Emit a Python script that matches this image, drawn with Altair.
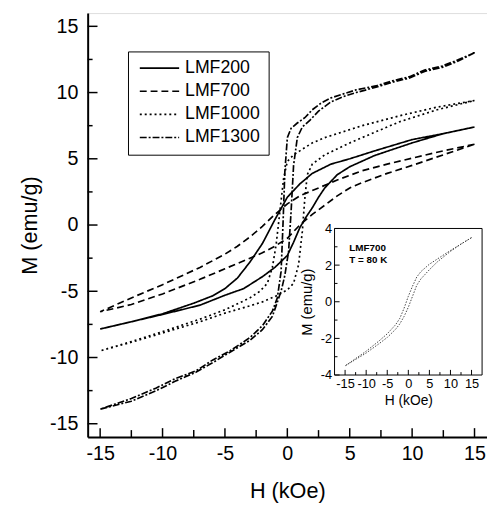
import altair as alt
import pandas as pd

# ---------------- data ----------------
samples = ["LMF200", "LMF700", "LMF1000", "LMF1300"]

# LMF200 (solid)
lmf200_desc_H = [15, 12.5, 10, 7, 5, 3.5, 2, 1, 0, -1, -2, -3, -4, -5, -6, -7.5, -10, -12.5, -15]
lmf200_desc_M = [7.4, 6.9, 6.45, 5.6, 5.0, 4.6, 3.9, 3.1, 2.1, 0.4, -1.4, -2.8, -4.0, -4.8, -5.35, -5.9, -6.7, -7.3, -7.85]
lmf200_asc_H = [-15, -12.5, -10, -7, -5, -3.5, -2, -1, 0, 0.5, 1, 1.5, 2, 2.5, 3, 4, 5, 7, 10, 12.5, 15]
lmf200_asc_M = [-7.85, -7.3, -6.75, -6.05, -5.3, -4.8, -3.9, -3.2, -2.3, -1.3, -0.2, 0.6, 1.3, 2.1, 2.8, 3.8, 4.4, 5.25, 6.2, 6.9, 7.4]

# LMF700 (dashed)
lmf700_desc_H = [15, 12.5, 10, 8, 6, 4, 2, 1, 0, -1, -2, -3, -4, -5, -7, -10, -12.5, -15]
lmf700_desc_M = [6.1, 5.6, 5.05, 4.6, 4.1, 3.4, 2.6, 2.2, 1.6, 0.8, -0.1, -0.9, -1.6, -2.2, -3.2, -4.5, -5.5, -6.55]
lmf700_asc_H = [-15, -12.5, -10, -7, -5, -4, -3, -2, -1, 0, 1, 2, 3, 4, 5, 6, 8, 10, 12.5, 15]
lmf700_asc_M = [-6.55, -6.0, -5.2, -4.1, -3.3, -2.9, -2.5, -2.1, -1.6, -1.0, 0.0, 0.8, 1.5, 2.2, 2.8, 3.2, 3.9, 4.5, 5.3, 6.1]

# LMF1000 (dotted)
lmf1000_desc_H = [15, 12, 9, 6, 4, 3, 2, 1, 0.5, 0, -0.3, -0.6, -0.9, -1.2, -1.6, -2.2, -3, -5, -7, -10, -12.5, -15]
lmf1000_desc_M = [9.4, 8.9, 8.25, 7.5, 6.9, 6.6, 6.2, 5.6, 5.3, 4.8, 3.5, 1.0, -1.5, -3.2, -4.4, -5.0, -5.5, -6.4, -7.1, -8.05, -8.8, -9.5]
lmf1000_asc_H = [-15, -12.5, -10, -7, -5, -3, -2, -1, 0, 0.5, 0.9, 1.2, 1.4, 1.6, 2, 3, 5, 7, 9, 12, 15]
lmf1000_asc_M = [-9.5, -8.85, -8.15, -7.3, -6.65, -6.1, -5.8, -5.4, -4.9, -4.4, -3.0, -0.5, 2.0, 3.8, 4.6, 5.3, 6.2, 7.0, 7.8, 8.7, 9.4]

# LMF1300 (dash-dot)
lmf1300_desc_H = [15, 13.5, 12.4, 11, 9.8, 8.5, 7.1, 5.5, 4.5, 3.5, 2.7, 2, 1.4, 0.8, 0.3, 0, -0.2, -0.35, -0.5, -0.8, -1.2, -2, -3, -4.6, -6, -7.3, -9, -10.5, -12.5, -15]
lmf1300_desc_M = [13.0, 12.4, 12.0, 11.7, 11.2, 10.9, 10.5, 10.2, 9.9, 9.6, 9.2, 8.7, 8.1, 7.7, 7.3, 6.6, 4.0, 0.0, -3.5, -5.5, -6.5, -7.6, -8.5, -9.5, -10.2, -11.0, -11.6, -12.3, -13.1, -13.9]
lmf1300_asc_H = [-15, -12.5, -10.5, -9, -7.3, -6, -4.6, -3, -2, -1.2, -0.5, -0.2, 0.1, 0.3, 0.5, 0.8, 1.2, 1.8, 2.5, 3.5, 4.5, 5.5, 7.1, 8.5, 9.8, 11, 12.4, 13.5, 15]
lmf1300_asc_M = [-13.9, -13.3, -12.5, -11.8, -11.1, -10.4, -9.6, -8.7, -7.9, -6.9, -5.0, -3.8, -2.0, 1.0, 4.5, 6.6, 7.4, 7.9, 8.6, 9.3, 9.7, 10.0, 10.4, 10.8, 11.1, 11.6, 11.9, 12.3, 13.0]

# Inset: LMF700 at T = 80 K
inset_desc_H = [15, 12.5, 10, 7, 5, 3, 2, 1, 0, -1, -2, -3, -5, -7, -10, -12.5, -15]
inset_desc_M = [3.5, 3.15, 2.8, 2.35, 2.05, 1.65, 1.35, 0.85, 0.3, -0.35, -0.9, -1.25, -1.75, -2.15, -2.7, -3.1, -3.5]
inset_asc_H = [-15, -12.5, -10, -7, -5, -3, -2, -1, 0, 1, 2, 3, 5, 7, 10, 12.5, 15]
inset_asc_M = [-3.5, -3.15, -2.8, -2.3, -1.95, -1.5, -1.2, -0.8, -0.3, 0.3, 0.9, 1.25, 1.75, 2.2, 2.75, 3.15, 3.5]
inset_notes = ["LMF700", "T = 80 K"]
inset_note_H = [-14, -14]
inset_note_M = [2.95, 2.3]

# tick values
main_major = [-15, -10, -5, 0, 5, 10, 15]
main_minor = [-12.5, -7.5, -2.5, 2.5, 7.5, 12.5]
inset_x_major = [-15, -10, -5, 0, 5, 10, 15]
inset_x_minor = [-12.5, -7.5, -2.5, 2.5, 7.5, 12.5]
inset_y_major = [-4, -2, 0, 2, 4]
inset_y_minor = [-3, -1, 1, 3]

# ---------------- build tables ----------------
branches = {
    "LMF200": (lmf200_desc_H, lmf200_desc_M, lmf200_asc_H, lmf200_asc_M),
    "LMF700": (lmf700_desc_H, lmf700_desc_M, lmf700_asc_H, lmf700_asc_M),
    "LMF1000": (lmf1000_desc_H, lmf1000_desc_M, lmf1000_asc_H, lmf1000_asc_M),
    "LMF1300": (lmf1300_desc_H, lmf1300_desc_M, lmf1300_asc_H, lmf1300_asc_M),
}
rows = []
for name in samples:
    dH, dM, aH, aM = branches[name]
    seq = list(zip(dH, dM)) + list(zip(aH, aM))
    for i, (h, m) in enumerate(seq):
        rows.append({"sample": name, "H": h, "M": m, "order": i})
df = pd.DataFrame(rows)

iseq = list(zip(inset_desc_H, inset_desc_M)) + list(zip(inset_asc_H, inset_asc_M))
df_in = pd.DataFrame({"Hi": [p[0] for p in iseq], "Mi": [p[1] for p in iseq], "order": list(range(len(iseq)))})
df_notes = pd.DataFrame({"Hi": inset_note_H, "Mi": inset_note_M, "txt": inset_notes})

FONT = "Liberation Sans"
W, HT = 406, 431
neg_expr = "datum.value < 0 ? '-' + abs(datum.value) : '' + datum.value"

xs = alt.Scale(domain=[-16, 16], nice=False, zero=False)
ys = alt.Scale(domain=[-16, 16], nice=False, zero=False)

x_axis = alt.Axis(values=main_major, ticks=False, grid=False, domainColor="black", domainWidth=2,
                  labelFont=FONT, labelFontSize=20, labelColor="black", labelPadding=7,
                  labelExpr=neg_expr, labelFlush=False, labelOverlap=False,
                  title="H (kOe)", titleFont=FONT, titleFontSize=22, titleFontWeight="normal",
                  titleColor="black", titlePadding=18)
y_axis = alt.Axis(values=main_major, ticks=False, grid=False, domainColor="black", domainWidth=2,
                  labelFont=FONT, labelFontSize=20, labelColor="black", labelPadding=10,
                  labelExpr=neg_expr, labelFlush=False, labelOverlap=False,
                  title="M (emu/g)", titleFont=FONT, titleFontSize=22, titleFontWeight="normal",
                  titleColor="black", titlePadding=8)

lines = alt.Chart(df).mark_line(color="black", strokeWidth=1.7).encode(
    x=alt.X("H:Q", scale=xs, axis=x_axis),
    y=alt.Y("M:Q", scale=ys, axis=y_axis),
    strokeDash=alt.StrokeDash(
        "sample:N",
        scale=alt.Scale(domain=samples, range=[[1, 0], [7, 4], [2, 3], [7, 2, 2, 2]]),
        title=None,
        legend=alt.Legend(orient="none", legendX=41, legendY=39, strokeColor="black",
                          padding=8, symbolType="M-1,0H7", symbolSize=100,
                          symbolStrokeWidth=1.7, symbolStrokeColor="black",
                          labelFont=FONT, labelFontSize=18, labelColor="black",
                          labelOffset=32, rowPadding=5.5, fillColor="white"),
    ),
    order="order:Q",
)

df_xmaj = pd.DataFrame({"H": main_major})
df_xmin = pd.DataFrame({"H": main_minor})
df_ymaj = pd.DataFrame({"M": main_major})
df_ymin = pd.DataFrame({"M": main_minor})

xt_major = alt.Chart(df_xmaj).mark_rule(color="black", strokeWidth=1.5).encode(
    x=alt.X("H:Q", scale=xs), y=alt.value(HT), y2=alt.value(HT - 9))
xt_minor = alt.Chart(df_xmin).mark_rule(color="black", strokeWidth=1.5).encode(
    x=alt.X("H:Q", scale=xs), y=alt.value(HT), y2=alt.value(HT - 7))
yt_major = alt.Chart(df_ymaj).mark_rule(color="black", strokeWidth=1.5).encode(
    y=alt.Y("M:Q", scale=ys), x=alt.value(0), x2=alt.value(10))
yt_minor = alt.Chart(df_ymin).mark_rule(color="black", strokeWidth=1.5).encode(
    y=alt.Y("M:Q", scale=ys), x=alt.value(0), x2=alt.value(5))

main = alt.layer(xt_major, xt_minor, yt_major, yt_minor, lines)

# ---------------- inset ----------------
ix = alt.Scale(domain=[-17.5, 17.5], range=[251, 401], nice=False, zero=False)
iy = alt.Scale(domain=[-4, 4], range=[368, 219], nice=False, zero=False)

ix_axis = alt.Axis(orient="bottom", offset=-63, values=inset_x_major, ticks=False, domain=False, grid=False,
                   labelFont=FONT, labelFontSize=13, labelColor="black", labelPadding=3,
                   labelExpr=neg_expr, labelFlush=False, labelOverlap=False,
                   title="H (kOe)", titleFont=FONT, titleFontSize=14, titleFontWeight="normal",
                   titleColor="black", titlePadding=3)
iy_axis = alt.Axis(orient="left", offset=-251, values=inset_y_major, ticks=False, domain=False, grid=False,
                   labelFont=FONT, labelFontSize=13, labelColor="black", labelPadding=3,
                   labelExpr=neg_expr, labelFlush=False, labelOverlap=False,
                   title="M (emu/g)", titleFont=FONT, titleFontSize=15, titleFontWeight="normal",
                   titleColor="black", titlePadding=6)

frame = alt.Chart(pd.DataFrame({"k": [0]})).mark_rect(fill="white", stroke="black", strokeWidth=1).encode(
    x=alt.X(datum=-17.5, scale=ix), x2=alt.X2(datum=17.5),
    y=alt.Y(datum=-4, scale=iy), y2=alt.Y2(datum=4))

inset_line = alt.Chart(df_in).mark_line(color="#444444", strokeWidth=1, strokeDash=[1.5, 1.5]).encode(
    x=alt.X("Hi:Q", scale=ix, axis=ix_axis),
    y=alt.Y("Mi:Q", scale=iy, axis=iy_axis),
    order="order:Q")

ixt_major = alt.Chart(pd.DataFrame({"Hi": inset_x_major})).mark_rule(color="black", strokeWidth=1).encode(
    x=alt.X("Hi:Q", scale=ix), y=alt.Y(datum=-4, scale=iy), y2=alt.Y2(datum=-3.72))
ixt_minor = alt.Chart(pd.DataFrame({"Hi": inset_x_minor})).mark_rule(color="black", strokeWidth=1).encode(
    x=alt.X("Hi:Q", scale=ix), y=alt.Y(datum=-4, scale=iy), y2=alt.Y2(datum=-3.84))
iyt_major = alt.Chart(pd.DataFrame({"Mi": inset_y_major})).mark_rule(color="black", strokeWidth=1).encode(
    y=alt.Y("Mi:Q", scale=iy), x=alt.X(datum=-17.5, scale=ix), x2=alt.X2(datum=-16.3))
iyt_minor = alt.Chart(pd.DataFrame({"Mi": inset_y_minor})).mark_rule(color="black", strokeWidth=1).encode(
    y=alt.Y("Mi:Q", scale=iy), x=alt.X(datum=-17.5, scale=ix), x2=alt.X2(datum=-16.8))

notes = alt.Chart(df_notes).mark_text(align="left", baseline="middle", font=FONT, fontSize=10,
                                      fontWeight="bold", color="black").encode(
    x=alt.X("Hi:Q", scale=ix), y=alt.Y("Mi:Q", scale=iy), text="txt:N")

inset = alt.layer(frame, ixt_major, ixt_minor, iyt_major, iyt_minor, inset_line, notes)

chart = alt.layer(main, inset).resolve_scale(x="independent", y="independent").properties(
    width=W, height=HT,
    padding={"left": 81, "top": 1, "right": 0, "bottom": 66},
    autosize=alt.AutoSizeParams(type="none"),
).configure_view(stroke="#999999", strokeWidth=1).configure(background="white")

chart.save("out.html", embed_options={"renderer": "svg", "actions": False})
